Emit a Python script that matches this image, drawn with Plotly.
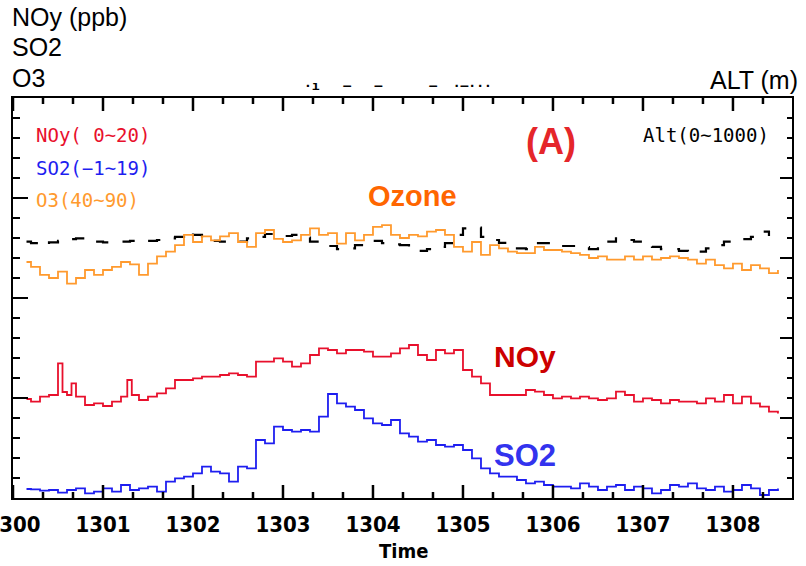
import plotly.graph_objects as go

# ---------------- data ----------------
time = [1300.15,
        1300.2, 1300.3, 1300.4, 1300.5, 1300.6, 1300.7, 1300.8, 1300.9,
        1301.0, 1301.1, 1301.2, 1301.3, 1301.4, 1301.5, 1301.6, 1301.7, 1301.8, 1301.9,
        1302.0, 1302.1, 1302.2, 1302.3, 1302.4, 1302.5, 1302.6, 1302.7, 1302.8, 1302.9,
        1303.0, 1303.1, 1303.2, 1303.3, 1303.4, 1303.5, 1303.6, 1303.7, 1303.8, 1303.9,
        1304.0, 1304.1, 1304.2, 1304.3, 1304.4, 1304.5, 1304.6, 1304.7, 1304.8, 1304.9,
        1305.0, 1305.1, 1305.2, 1305.3, 1305.4, 1305.5, 1305.6, 1305.7, 1305.8, 1305.9,
        1306.0, 1306.1, 1306.2, 1306.3, 1306.4, 1306.5, 1306.6, 1306.7, 1306.8, 1306.9,
        1307.0, 1307.1, 1307.2, 1307.3, 1307.4, 1307.5, 1307.6, 1307.7, 1307.8, 1307.9,
        1308.0, 1308.1, 1308.2, 1308.3, 1308.4, 1308.5]

o3 = [69.5,
      68.9, 67.9, 67.5, 68.3, 66.8, 67.5, 68.5, 67.9,
      68.5, 68.9, 69.5, 69.2, 67.9, 69.3, 70.2, 70.8, 71.6, 72.9,
      72.0, 72.7, 72.2, 72.7, 73.1, 72.0, 71.4, 73.1, 73.5, 72.4,
      72.0, 72.2, 72.9, 73.7, 72.9, 73.1, 71.8, 73.1, 72.2, 72.9,
      73.9, 74.1, 72.9, 72.5, 72.9, 72.7, 73.3, 73.5, 72.9, 71.4,
      70.8, 72.0, 70.4, 71.6, 71.2, 70.8, 70.6, 70.6, 71.4, 71.0,
      71.0, 70.8, 70.6, 70.4, 70.0, 70.2, 69.8, 69.8, 70.2, 69.8,
      70.2, 69.8, 70.0, 70.2, 70.0, 69.8, 69.3, 69.8, 69.1, 68.7,
      69.3, 68.5, 69.1, 68.7, 68.1, 68.5]

# NOy has a few extra samples where narrow spikes were read
noy_time = [1300.15,
            1300.2, 1300.3, 1300.4, 1300.5, 1300.55, 1300.6, 1300.65, 1300.7, 1300.8, 1300.9,
            1301.0, 1301.1, 1301.2, 1301.27, 1301.32, 1301.4, 1301.5, 1301.6, 1301.7, 1301.8, 1301.9,
            1302.0, 1302.1, 1302.2, 1302.3, 1302.4, 1302.5, 1302.6, 1302.7, 1302.8, 1302.9,
            1303.0, 1303.1, 1303.2, 1303.3, 1303.4, 1303.5, 1303.6, 1303.7, 1303.8, 1303.9,
            1304.0, 1304.1, 1304.2, 1304.3, 1304.4, 1304.5, 1304.6, 1304.7, 1304.8, 1304.9,
            1305.0, 1305.1, 1305.2, 1305.3, 1305.4, 1305.5, 1305.6, 1305.7, 1305.8, 1305.9,
            1306.0, 1306.1, 1306.2, 1306.3, 1306.4, 1306.5, 1306.6, 1306.7, 1306.8, 1306.9,
            1307.0, 1307.1, 1307.2, 1307.3, 1307.4, 1307.5, 1307.6, 1307.7, 1307.8, 1307.9,
            1308.0, 1308.1, 1308.2, 1308.3, 1308.4, 1308.5]
noy = [4.95,
       4.82, 5.07, 5.15, 6.73, 5.30, 5.15, 5.73, 5.07, 4.65, 4.73,
       4.60, 4.82, 5.07, 5.90, 5.15, 4.90, 5.07, 5.23, 5.48, 5.90, 5.90,
       5.98, 6.07, 6.07, 6.15, 6.23, 6.15, 6.07, 6.82, 6.82, 6.98,
       6.82, 6.57, 6.73, 7.15, 7.48, 7.40, 7.23, 7.40, 7.40, 7.32,
       7.07, 7.07, 7.23, 7.48, 7.65, 7.15, 6.90, 7.40, 7.23, 7.40,
       6.40, 6.07, 5.73, 5.15, 5.15, 5.15, 5.15, 5.40, 5.32, 5.15,
       4.98, 5.07, 4.98, 5.07, 4.98, 4.90, 4.98, 5.32, 5.15, 4.82,
       4.98, 4.90, 4.73, 4.90, 4.82, 4.82, 4.73, 4.98, 4.82, 5.15,
       4.73, 5.07, 4.73, 4.57, 4.32, 4.23]

so2 = [-0.55,
       -0.57, -0.63, -0.60, -0.73, -0.60, -0.52, -0.77, -0.68,
       -0.52, -0.68, -0.35, -0.60, -0.52, -0.43, -0.68, -0.18, -0.02, 0.07,
       0.23, 0.57, 0.32, 0.23, -0.18, 0.57, 0.48, 1.90, 1.73, 2.57,
       2.40, 2.32, 2.40, 2.32, 3.07, 4.20, 3.73, 3.57, 3.40, 2.98,
       2.73, 2.65, 2.90, 2.23, 2.07, 1.82, 1.90, 1.65, 1.57, 1.65,
       1.40, 0.98, 0.48, 0.23, 0.07, 0.07, -0.10, -0.27, -0.18, -0.35,
       -0.43, -0.43, -0.52, -0.27, -0.43, -0.60, -0.43, -0.35, -0.60, -0.43,
       -0.52, -0.77, -0.60, -0.35, -0.43, -0.27, -0.52, -0.60, -0.43, -0.68,
       -0.60, -0.35, -0.52, -0.85, -0.60, -0.52]

alt_time = time[:-1]
alt = [641,
       637, 631, 639, 643, 647, 649, 647, 641,
       639, 639, 641, 643, 641, 643, 645, 649, 653, 666,
       658, 649, 643, 641, 643, 641, 649, 653, 660, 655,
       655, 658, 651, 641, 637, 630, 622, 624, 632, 641,
       643, 637, 634, 632, 624, 618, 622, 628, 637, 658,
       674, 676, 653, 645, 638, 632, 624, 622, 637, 637,
       632, 630, 630, 627, 622, 632, 641, 649, 645, 641,
       637, 628, 622, 622, 618, 612, 616, 624, 632, 641,
       647, 647, 653, 666, 655]

x_range = [1300, 1308.656]
x_major = [1300, 1301, 1302, 1303, 1304, 1305, 1306, 1307, 1308]
x_labels = ["1300", "1301", "1302", "1303", "1304", "1305", "1306", "1307", "1308"]
noy_range = [0, 20]
so2_range = [-1, 19]
o3_range = [40, 90]
alt_range = [0, 1000]

# minor time ticks every third of a unit (between the labelled ones)
x_minor = [x_range[0] + k / 3 for k in range(1, 26) if k % 3]

# ---------------- figure ----------------
W, H = 806, 566
L, R, T, B = 13, 14, 98, 68
PW, PH = W - L - R, H - T - B

fig = go.Figure()
fig.add_trace(go.Scatter(x=noy_time, y=noy, xaxis="x", yaxis="y", mode="lines", line_shape="hv",
                         line=dict(color="#e8102c", width=1.8), showlegend=False))
fig.add_trace(go.Scatter(x=time, y=o3, xaxis="x", yaxis="y4", mode="lines", line_shape="hv",
                         line=dict(color="#ff9a2e", width=1.8), showlegend=False))
fig.add_trace(go.Scatter(x=alt_time, y=alt, xaxis="x", yaxis="y2", mode="lines", line_shape="hv",
                         line=dict(color="black", width=2.2, dash="13px,15px"), showlegend=False))
fig.add_trace(go.Scatter(x=time, y=so2, xaxis="x", yaxis="y3", mode="lines", line_shape="hv",
                         line=dict(color="#1e1ef0", width=1.8), showlegend=False))

tickfont = dict(family="Liberation Sans Narrow, Arial Narrow, DejaVu Sans Condensed, sans-serif",
                size=22, color="black")

fig.update_layout(
    width=W, height=H,
    margin=dict(l=L, r=R, t=T, b=B, autoexpand=False),
    paper_bgcolor="white", plot_bgcolor="white", showlegend=False,
    xaxis=dict(range=x_range, side="bottom", anchor="y", ticks="",
               tickmode="array", tickvals=x_major,
               ticktext=["<b>%s</b>" % s for s in x_labels],
               tickfont=tickfont, ticklabeloverflow="allow", ticklabelstandoff=6,
               showline=True, linecolor="black", linewidth=2, mirror=True,
               showgrid=False, zeroline=False, automargin=False),
    yaxis=dict(range=noy_range, ticks="inside", ticklen=15, tickwidth=2, tickcolor="black",
               tick0=0, dtick=5, showticklabels=False,
               showline=True, linecolor="black", linewidth=2,
               showgrid=False, zeroline=False, automargin=False,
               minor=dict(ticks="inside", ticklen=7, tickwidth=2, tickcolor="black",
                          tick0=0, dtick=1, showgrid=False)),
    yaxis2=dict(range=alt_range, overlaying="y", side="right", anchor="x",
                ticks="inside", ticklen=12, tickwidth=2, tickcolor="black",
                tick0=0, dtick=200, showticklabels=False,
                showline=True, linecolor="black", linewidth=2,
                showgrid=False, zeroline=False, automargin=False,
                minor=dict(ticks="inside", ticklen=5, tickwidth=2, tickcolor="black",
                           tick0=0, dtick=50, showgrid=False)),
    yaxis3=dict(range=so2_range, overlaying="y", anchor="x", ticks="", showticklabels=False,
                showline=False, showgrid=False, zeroline=False, automargin=False),
    yaxis4=dict(range=o3_range, overlaying="y", anchor="x", ticks="", showticklabels=False,
                showline=False, showgrid=False, zeroline=False, automargin=False),
)

# inward time-axis tick marks on bottom and top edges, placed on the x scale
for vals, length in ((x_major, 13), (x_minor, 6)):
    frac = length / PH
    for v in vals:
        fig.add_shape(type="line", xref="x", yref="paper", x0=v, x1=v, y0=0, y1=frac,
                      line=dict(color="black", width=2.5), layer="above")
        fig.add_shape(type="line", xref="x", yref="paper", x0=v, x1=v, y0=1, y1=1 - frac,
                      line=dict(color="black", width=2.5), layer="above")


def px(xp):
    return (xp - L) / PW


def py(yp):
    return (H - B - yp) / PH


def note(text, x, y, size, color, family="Liberation Sans, Arial, sans-serif",
         xanchor="left", bold=False):
    if bold:
        text = "<b>" + text + "</b>"
    fig.add_annotation(text=text, x=px(x), y=py(y), xref="paper", yref="paper",
                       xanchor=xanchor, yanchor="middle", showarrow=False,
                       font=dict(family=family, size=size, color=color))


# header texts
note("NOy (ppb)", 10, 17, 25, "black")
note("SO2", 10, 47, 25, "black")
note("O3", 10, 78, 25, "black")
note("ALT (m)", 800, 80, 25, "black", xanchor="right")
note("·ı   –   –      –  ·–···", 302, 86, 13, "black",
     family="DejaVu Sans Mono, monospace", bold=True)

mono = "DejaVu Sans Mono, monospace"
note("NOy( 0~20)", 34, 135, 19, "#e8102c", family=mono)
note("SO2(−1~19)", 34, 168, 19, "#1e1ef0", family=mono)
note("O3(40~90)", 34, 200, 19, "#ff9a2e", family=mono)
note("Alt(0~1000)", 771, 135, 19, "black", family=mono, xanchor="right")

note("(A)", 551, 141, 36, "#e5262a", xanchor="center", bold=True)
note("Ozone", 412, 196, 29, "#ff6600", xanchor="center", bold=True)
note("NOy", 525, 356, 30, "#cc0000", xanchor="center", bold=True)
note("SO2", 525, 455, 31, "#3333ee", xanchor="center", bold=True)

note("Time", 403, 551, 20, "black", family=tickfont["family"], xanchor="center", bold=True)

fig.write_html("out.html")
